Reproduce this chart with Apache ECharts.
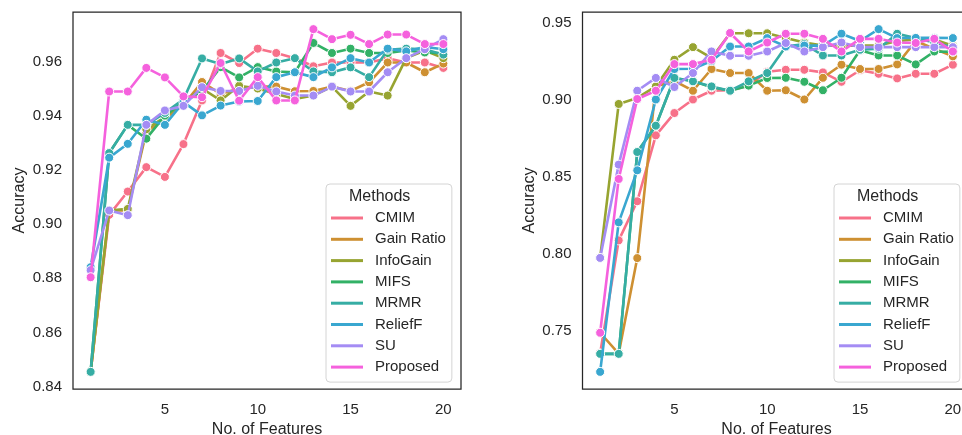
<!DOCTYPE html>
<html>
<head>
<meta charset="utf-8">
<script src="https://cdn.jsdelivr.net/npm/echarts@6/dist/echarts.min.js"></script>
<style>
html,body{margin:0;padding:0;background:#fff;}
#chart{width:962px;height:435px;}
</style>
</head>
<body>
<div id="chart"></div>
<script>
// ---- categories / ticks ----
const features = [1,2,3,4,5,6,7,8,9,10,11,12,13,14,15,16,17,18,19,20];
const methods = ['CMIM','Gain Ratio','InfoGain','MIFS','MRMR','ReliefF','SU','Proposed'];
const colors = ['#f77189','#ce9032','#97a431','#32b166','#36ada4','#39a7d0','#a48cf4','#f561dd'];
const xTicks = [5,10,15,20];
const leftYTicks = [0.84,0.86,0.88,0.90,0.92,0.94,0.96];
const rightYTicks = [0.75,0.80,0.85,0.90,0.95];

// ---- left panel values ----
const leftCMIM     = [0.8455,0.9034,0.9120,0.9210,0.9174,0.9295,0.9456,0.9631,0.9594,0.9647,0.9631,0.9612,0.9582,0.9596,0.9596,0.9596,0.9612,0.9596,0.9596,0.9576];
const leftGainRatio= [0.8455,0.9050,0.9050,0.9340,0.9390,0.9440,0.9524,0.9480,0.9500,0.9507,0.9507,0.9490,0.9491,0.9507,0.9491,0.9523,0.9596,0.9596,0.9560,0.9592];
const leftInfoGain = [0.8455,0.9050,0.9056,0.9350,0.9395,0.9450,0.9500,0.9456,0.9510,0.9500,0.9480,0.9461,0.9474,0.9507,0.9436,0.9489,0.9474,0.9612,0.9640,0.9612];
const leftMIFS     = [0.8455,0.9262,0.9366,0.9315,0.9400,0.9450,0.9490,0.9579,0.9541,0.9579,0.9563,0.9560,0.9668,0.9631,0.9647,0.9631,0.9631,0.9640,0.9633,0.9630];
const leftMRMR     = [0.8455,0.9262,0.9366,0.9366,0.9410,0.9460,0.9611,0.9590,0.9611,0.9563,0.9596,0.9612,0.9563,0.9560,0.9578,0.9542,0.9643,0.9647,0.9645,0.9625];
const leftReliefF  = [0.8841,0.9245,0.9296,0.9385,0.9366,0.9450,0.9401,0.9437,0.9452,0.9454,0.9542,0.9560,0.9542,0.9578,0.9612,0.9596,0.9647,0.9637,0.9653,0.9645];
const leftSU       = [0.8830,0.9050,0.9033,0.9366,0.9419,0.9436,0.9505,0.9491,0.9491,0.9510,0.9489,0.9474,0.9474,0.9507,0.9489,0.9489,0.9560,0.9612,0.9645,0.9682];
const leftProposed = [0.8804,0.9489,0.9489,0.9576,0.9541,0.9471,0.9468,0.9594,0.9455,0.9542,0.9456,0.9456,0.9719,0.9682,0.9698,0.9664,0.9699,0.9699,0.9664,0.9664];

// ---- right panel values ----
const rightCMIM     = [0.7350,0.8085,0.8339,0.8767,0.8912,0.9000,0.9057,0.9060,0.9090,0.9180,0.9193,0.9193,0.9176,0.9115,0.9190,0.9167,0.9137,0.9167,0.9167,0.9226];
const rightGainRatio= [0.7485,0.7350,0.7970,0.9085,0.9120,0.9057,0.9198,0.9172,0.9172,0.9057,0.9060,0.9000,0.9141,0.9226,0.9198,0.9198,0.9228,0.9380,0.9330,0.9280];
const rightInfoGain = [0.7971,0.8971,0.9010,0.9085,0.9258,0.9340,0.9270,0.9430,0.9430,0.9430,0.9400,0.9370,0.9350,0.9350,0.9350,0.9350,0.9380,0.9390,0.9390,0.9350];
const rightMIFS     = [0.7348,0.7348,0.8659,0.8830,0.9140,0.9120,0.9080,0.9057,0.9090,0.9140,0.9141,0.9115,0.9060,0.9141,0.9320,0.9286,0.9286,0.9228,0.9312,0.9310];
const rightMRMR     = [0.7348,0.7348,0.8659,0.8830,0.9140,0.9118,0.9085,0.9057,0.9118,0.9172,0.9344,0.9360,0.9286,0.9286,0.9323,0.9330,0.9427,0.9400,0.9370,0.9340];
const rightReliefF  = [0.7231,0.8202,0.8540,0.9000,0.9198,0.9200,0.9250,0.9344,0.9344,0.9399,0.9344,0.9350,0.9350,0.9427,0.9380,0.9457,0.9399,0.9400,0.9400,0.9399];
const rightSU       = [0.7971,0.8577,0.9057,0.9140,0.9081,0.9172,0.9312,0.9284,0.9284,0.9312,0.9367,0.9312,0.9340,0.9370,0.9340,0.9340,0.9340,0.9340,0.9340,0.9340];
const rightProposed = [0.7485,0.8484,0.9003,0.9057,0.9230,0.9230,0.9258,0.9432,0.9312,0.9370,0.9427,0.9427,0.9394,0.9312,0.9394,0.9394,0.9370,0.9367,0.9394,0.9312];

const leftData  = [leftCMIM,leftGainRatio,leftInfoGain,leftMIFS,leftMRMR,leftReliefF,leftSU,leftProposed];
const rightData = [rightCMIM,rightGainRatio,rightInfoGain,rightMIFS,rightMRMR,rightReliefF,rightSU,rightProposed];

const FONT = '"Liberation Sans", Arial, Helvetica, sans-serif';
const TXT = '#262626';

function paddedRange(arrs){
  let lo = Infinity, hi = -Infinity;
  arrs.forEach(a => a.forEach(v => { lo = Math.min(lo, v); hi = Math.max(hi, v); }));
  const m = (hi - lo) * 0.05;
  return [lo - m, hi + m];
}
const xLo = features[0] - (features[features.length-1]-features[0])*0.05;
const xHi = features[features.length-1] + (features[features.length-1]-features[0])*0.05;
const lr = paddedRange(leftData);
const rr = paddedRange(rightData);

function xAxisFor(idx){
  return {
    gridIndex: idx, type: 'value', min: xLo, max: xHi,
    axisLine: {show: false}, axisTick: {show: false}, splitLine: {show: false},
    axisLabel: {customValues: xTicks, fontSize: 15, color: TXT, fontFamily: FONT, margin: 13},
    name: 'No. of Features', nameLocation: 'middle', nameGap: 29,
    nameTextStyle: {fontSize: 16, color: TXT, fontFamily: FONT}
  };
}
function yAxisFor(idx, range, ticks){
  return {
    gridIndex: idx, type: 'value', min: range[0], max: range[1],
    axisLine: {show: false}, axisTick: {show: false}, splitLine: {show: false},
    axisLabel: {customValues: ticks, fontSize: 15, color: TXT, fontFamily: FONT, margin: 11,
      formatter: v => v.toFixed(2)},
    name: 'Accuracy', nameLocation: 'middle', nameRotate: 90, nameGap: 45,
    nameTextStyle: {fontSize: 16, color: TXT, fontFamily: FONT}
  };
}

const series = [];
[leftData, rightData].forEach((panel, p) => {
  panel.forEach((arr, i) => {
    series.push({
      type: 'line', name: methods[i], xAxisIndex: p, yAxisIndex: p,
      data: features.map((f, j) => [f, arr[j]]),
      symbol: 'circle', symbolSize: 9, showSymbol: true,
      lineStyle: {width: 2.6, color: colors[i]},
      itemStyle: {color: colors[i], borderColor: '#ffffff', borderWidth: 1},
      emphasis: {disabled: true}, z: 2 + i * 0.01
    });
  });
});

function legendFor(left){
  return {
    left: left, top: 184, orient: 'vertical', icon: 'rect',
    itemWidth: 32, itemHeight: 3, itemGap: 6.3,
    padding: [26.5, 6, 7.5, 5],
    backgroundColor: 'rgba(255,255,255,0.8)', borderColor: '#d4d4d4', borderWidth: 1, borderRadius: 4,
    itemStyle: {borderWidth: 0},
    textStyle: {fontSize: 15, color: TXT, fontFamily: FONT, padding: [0,0,0,7], lineHeight: 15},
    data: methods, selectedMode: false, z: 10
  };
}

const chart = echarts.init(document.getElementById('chart'), null, {renderer: 'canvas'});
chart.setOption({
  animation: false,
  backgroundColor: '#ffffff',
  grid: [
    {left: 73, top: 12, width: 388, height: 377, outerBoundsMode: 'none', containLabel: false, show: true, borderColor: TXT, borderWidth: 1.25, backgroundColor: 'transparent'},
    {left: 582.5, top: 12, width: 388, height: 377, outerBoundsMode: 'none', containLabel: false, show: true, borderColor: TXT, borderWidth: 1.25, backgroundColor: 'transparent'}
  ],
  xAxis: [xAxisFor(0), xAxisFor(1)],
  yAxis: [yAxisFor(0, lr, leftYTicks), yAxisFor(1, rr, rightYTicks)],
  legend: [legendFor(326), legendFor(834)],
  graphic: [
    {type: 'text', left: 389 - 40, top: 189, z: 100, style: {text: 'Methods', width: 80, align: 'center', fontSize: 16, fill: TXT, fontFamily: FONT}},
    {type: 'text', left: 897 - 40, top: 189, z: 100, style: {text: 'Methods', width: 80, align: 'center', fontSize: 16, fill: TXT, fontFamily: FONT}}
  ],
  series: series
});
</script>
</body>
</html>
